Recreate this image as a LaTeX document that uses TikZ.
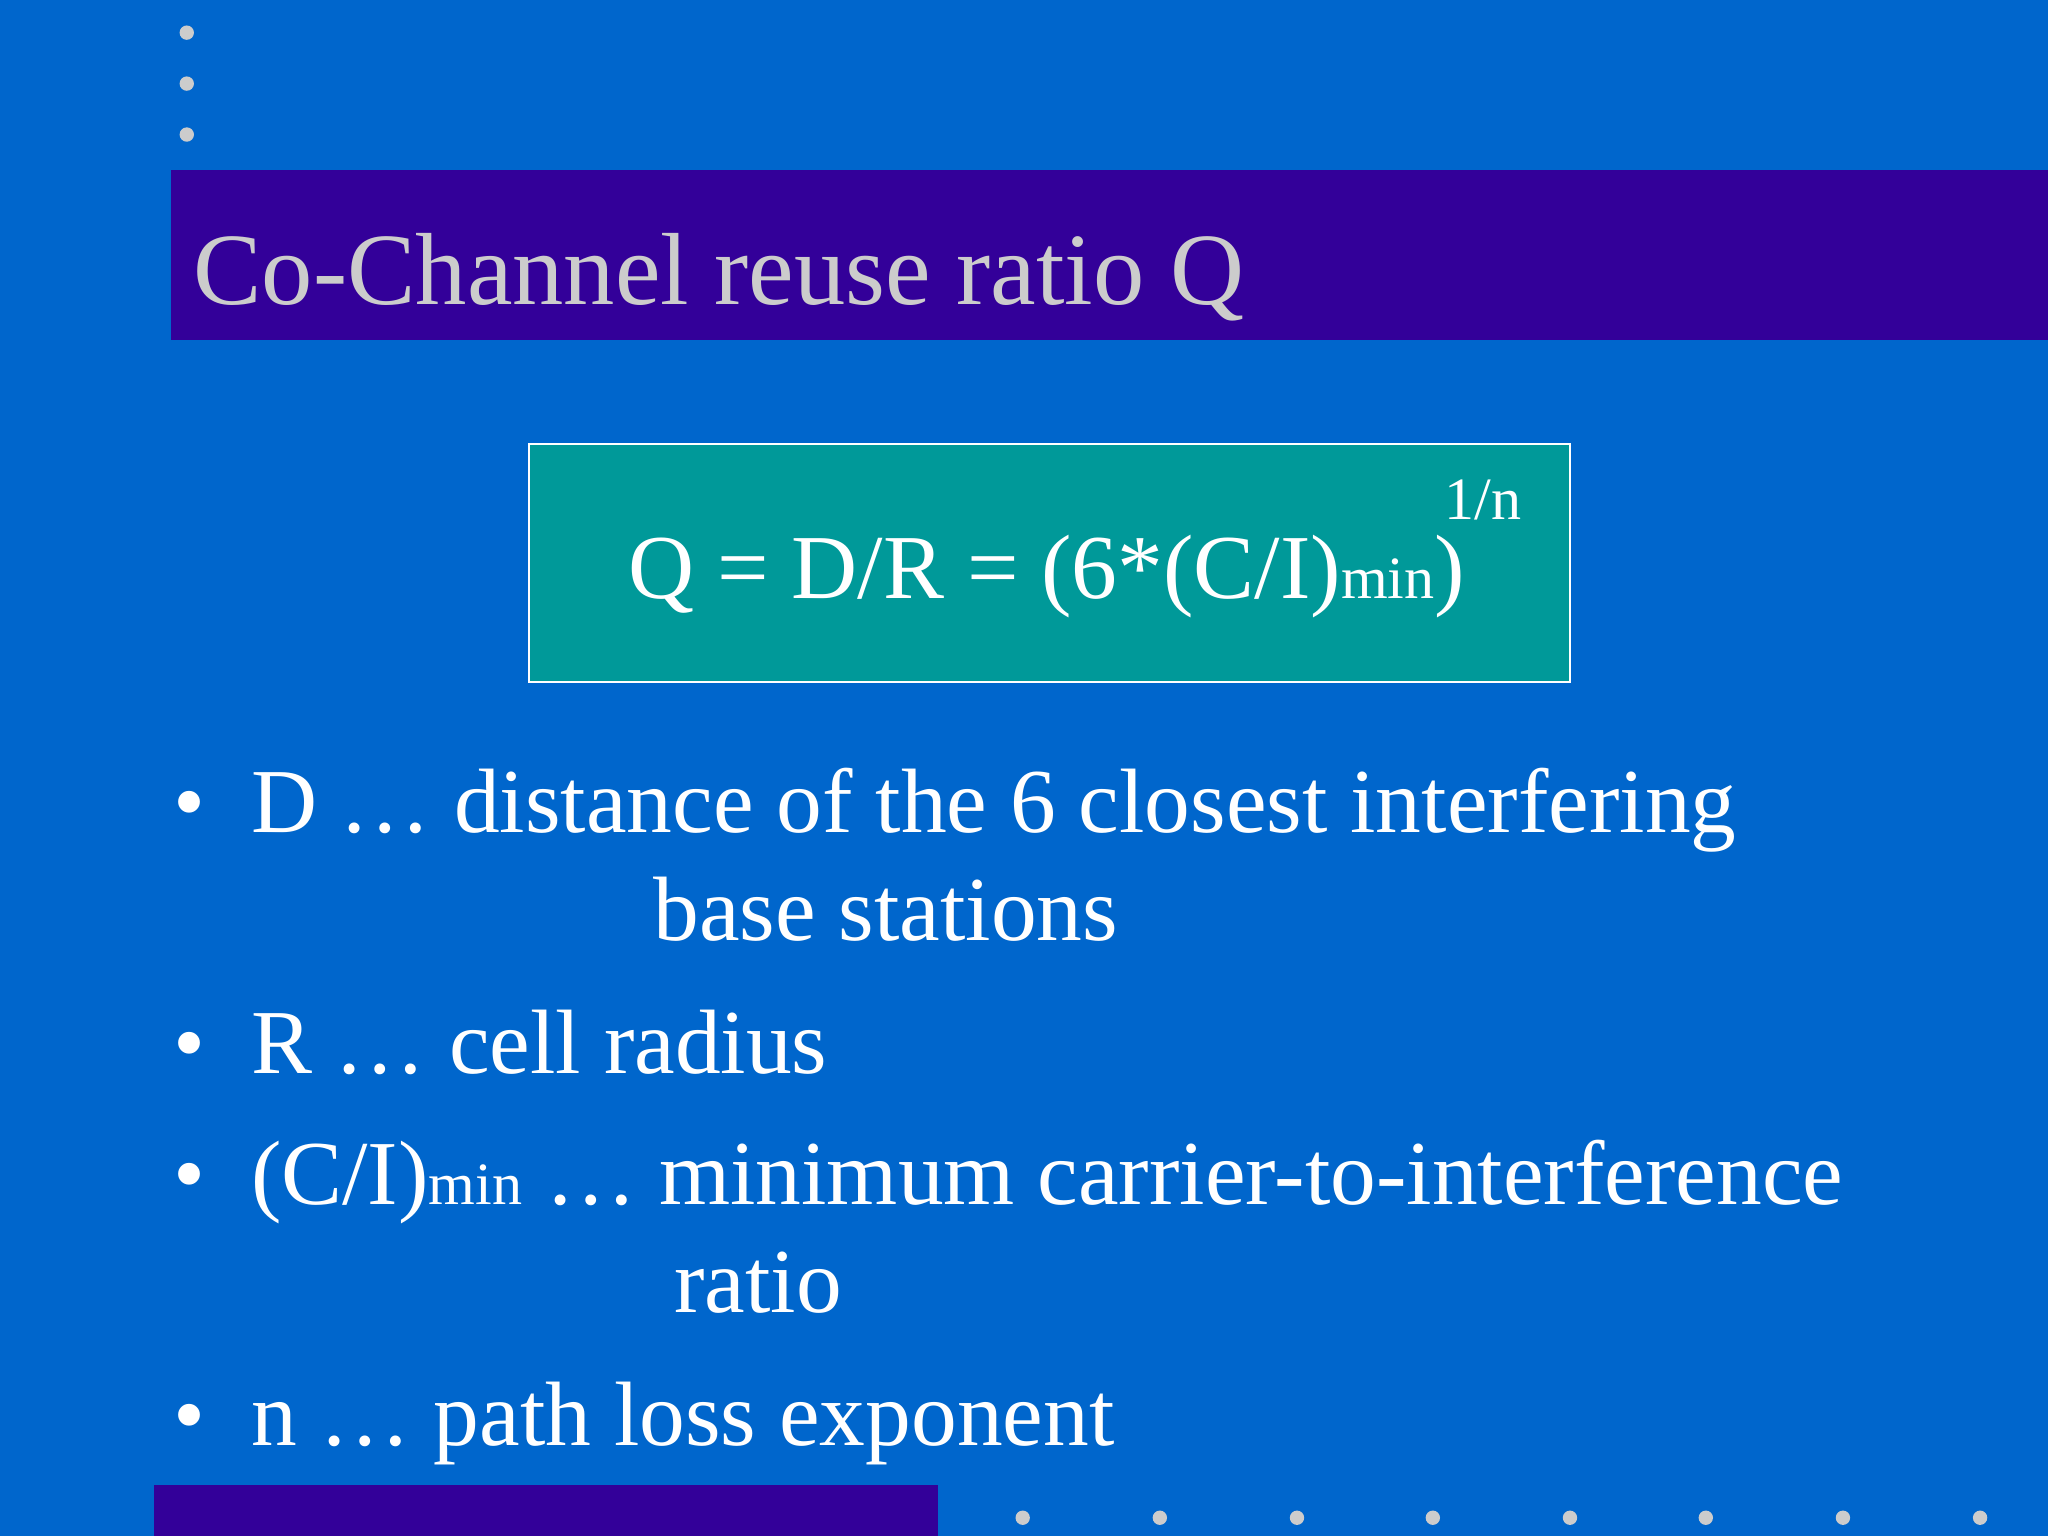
\documentclass[tikz,border=0pt]{standalone}
\usepackage{fontspec}
\setmainfont{Liberation Serif}
\definecolor{bg}{HTML}{0066CC}
\definecolor{band}{HTML}{330099}
\definecolor{teal}{HTML}{009999}
\definecolor{lg}{HTML}{CCCCCC}
\begin{document}
\begin{tikzpicture}[x=1pt,y=-1pt,
  txt/.style={anchor=base west,inner sep=0,text=white,font=\fontsize{70}{80}\selectfont},
  dotm/.style={fill=lg,draw=none}]
\useasboundingbox (0,0) rectangle (1568,1176);
\fill[bg] (0,0) rectangle (1568,1176);
\foreach \y in {25,64,103} \fill[dotm] (143,\y) circle (5.5);
\foreach \x in {783,888,993,1097,1202,1306,1411,1516} \fill[dotm] (\x,1162) circle (5.5);
\fill[band] (131,130) rectangle (1568,260);
\fill[band] (118,1137) rectangle (718,1176);
\node[anchor=base west,inner sep=0,text=lg,font=\fontsize{78.5}{90}\selectfont] (title) at (148,233) {Co-Channel reuse ratio Q};
\draw[white,line width=2,fill=teal] (405,340) rectangle (1202,522);
\node[txt] (f) at (481,458) {Q = D/R = (6*(C/I)\fontsize{46}{50}\selectfont min\fontsize{70}{80}\selectfont)};
\node[txt,font=\fontsize{46}{50}\selectfont] (e) at (1106,398) {1/n};
\foreach \y in {637,822,922,1107} \node[txt] at (133,\y) {\textbullet};
\node[txt] (b1) at (192,637) {D … distance of the 6 closest interfering};
\node[txt] (b1b) at (500,720) {base stations};
\node[txt] (b2) at (192,822) {R … cell radius};
\node[txt] (b3) at (192,922) {(C/I)\fontsize{46}{50}\selectfont min\fontsize{70}{80}\selectfont{} … minimum carrier-to-interference};
\node[txt] (b3b) at (516,1005) {ratio};
\node[txt] (b4) at (192,1107) {n … path loss exponent};
\end{tikzpicture}
\end{document}
